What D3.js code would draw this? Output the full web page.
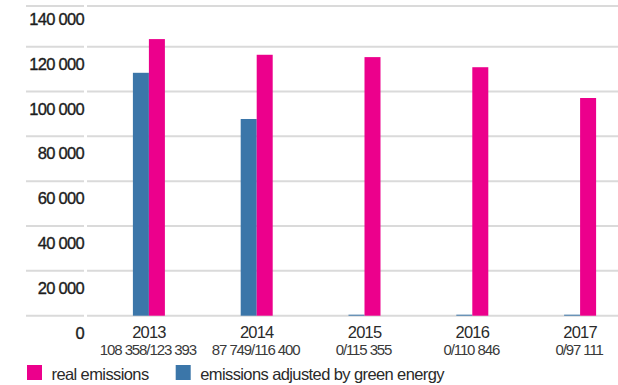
<!DOCTYPE html>
<html>
<head>
<meta charset="utf-8">
<script src="https://cdn.jsdelivr.net/npm/d3@7"></script>
<style>
  html, body { margin: 0; padding: 0; background: #fff; }
  svg { display: block; font-family: "Liberation Sans", Arial, sans-serif; }
</style>
</head>
<body>
<svg id="chart" width="618" height="385"></svg>
<script>
// Emissions per year: real vs adjusted by green energy
const years = ["2013", "2014", "2015", "2016", "2017"];
const realEmissions = [123393, 116400, 115355, 110846, 97111];
const adjustedEmissions = [108358, 87749, 0, 0, 0];
const yTicks = [0, 20000, 40000, 60000, 80000, 100000, 120000, 140000];
const seriesNames = ["emissions adjusted by green energy", "real emissions"];
const seriesColors = ["#3b76a9", "#ec008c"];

const svg = d3.select("#chart");
const W = 618, H = 385;

const plotTop = 6;
const y = d3.scaleLinear().domain([0, 120000]).range([315.7, 46.7]);
const x = d3.scaleBand().domain(years).range([95, 634]).padding(0);
const barW = 16;
const xs = d3.scaleBand().domain(seriesNames)
  .range([x.bandwidth() / 2 - barW, x.bandwidth() / 2 + barW]).padding(0);

const fmt = d3.formatLocale({ decimal: ",", thousands: " ", grouping: [3], currency: ["", ""] }).format(",d");

// grid lines and tick stubs
const grid = svg.append("g");
yTicks.forEach(t => {
  const gy = Math.max(plotTop, y(t));
  grid.append("line").attr("x1", 26).attr("x2", 84).attr("y1", gy).attr("y2", gy)
    .attr("stroke", "#dadada").attr("stroke-width", 2);
  grid.append("line").attr("x1", 87).attr("x2", W).attr("y1", gy).attr("y2", gy)
    .attr("stroke", "#dadada").attr("stroke-width", 2);
});

// y labels sit under their lines
svg.append("g").selectAll("text").data(yTicks).join("text")
  .attr("x", 84).attr("y", d => y(d) + 17)
  .attr("text-anchor", "end").attr("dominant-baseline", "central")
  .attr("font-size", 16.5).attr("letter-spacing", -0.7)
  .attr("fill", "#1c1c1c").attr("stroke", "#1c1c1c").attr("stroke-width", 0.35)
  .text(d => fmt(d));

// bars
const rows = years.map((yr, i) => ({ year: yr, values: [adjustedEmissions[i], realEmissions[i]] }));
const groups = svg.append("g").selectAll("g").data(rows).join("g")
  .attr("transform", d => `translate(${x(d.year)},0)`);
groups.selectAll("rect").data(d => d.values.map((v, j) => ({ key: seriesNames[j], v, j })))
  .join("rect")
  .attr("x", d => xs(d.key)).attr("width", xs.bandwidth())
  .attr("y", d => Math.min(y(d.v), y(0) - 1))
  .attr("height", d => Math.max(1, y(0) - y(d.v)))
  .attr("fill", d => seriesColors[d.j]);

// x labels: year and values
const xl = svg.append("g").selectAll("g").data(rows).join("g")
  .attr("transform", d => `translate(${x(d.year) + x.bandwidth() / 2},0)`);
xl.append("text").attr("y", 332).attr("text-anchor", "middle").attr("dominant-baseline", "central")
  .attr("font-size", 16.5).attr("letter-spacing", -0.8).attr("fill", "#2a2a2a")
  .text(d => d.year);
xl.append("text").attr("x", -1).attr("y", 349).attr("text-anchor", "middle").attr("dominant-baseline", "central")
  .attr("font-size", 15).attr("letter-spacing", -1.1).attr("fill", "#3a3a3a")
  .text(d => `${fmt(d.values[0])}/${fmt(d.values[1])}`);

// legend
const legend = [
  { name: "real emissions", color: seriesColors[1], x: 27 },
  { name: "emissions adjusted by green energy", color: seriesColors[0], x: 175.7 }
];
const lg = svg.append("g").selectAll("g").data(legend).join("g")
  .attr("transform", d => `translate(${d.x},365)`);
lg.append("rect").attr("width", 15).attr("height", 15).attr("fill", d => d.color);
lg.append("text").attr("x", 24.5).attr("y", 8.5).attr("dominant-baseline", "central")
  .attr("font-size", 16.5).attr("letter-spacing", -0.6).attr("fill", "#2a2a2a")
  .text(d => d.name);
</script>
</body>
</html>
